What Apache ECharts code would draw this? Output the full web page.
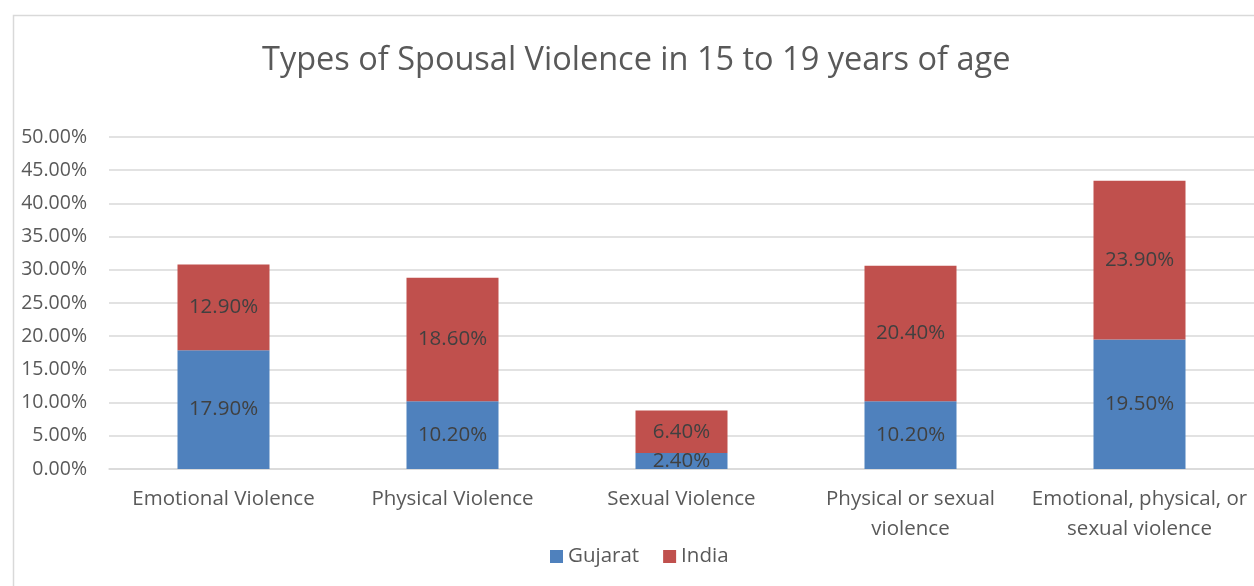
<!DOCTYPE html>
<html>
<head>
<meta charset="utf-8">
<title>Types of Spousal Violence</title>
<script src="https://cdn.jsdelivr.net/npm/echarts@6/dist/echarts.min.js"></script>
<style>
  html, body { margin: 0; padding: 0; background: #fff; }
  #chart { width: 1254px; height: 586px; }
</style>
</head>
<body>
<div id="chart"></div>
<script>
// data
const categories = [
  'Emotional Violence',
  'Physical Violence',
  'Sexual Violence',
  'Physical or sexual\nviolence',
  'Emotional, physical, or\nsexual violence'
];
const gujarat = [17.9, 10.2, 2.4, 10.2, 19.5];
const india = [12.9, 18.6, 6.4, 20.4, 23.9];

const font = '"Open Sans", "Noto Sans", sans-serif';
const pct = v => v.toFixed(2) + '%';

const chart = echarts.init(document.getElementById('chart'), null, { renderer: 'canvas' });

function seriesOf(name, data, color) {
  return {
    name: name,
    type: 'bar',
    stack: 'total',
    data: data,
    barWidth: 92,
    itemStyle: { color: color },
    label: {
      show: true,
      position: 'inside',
      formatter: p => pct(p.value),
      color: '#404040',
      fontFamily: font,
      fontSize: 20.5
    }
  };
}

chart.setOption({
  animation: false,
  backgroundColor: '#fff',
  graphic: [{
    type: 'rect',
    left: 11, top: 13,
    shape: { width: 1300, height: 640 },
    style: { fill: 'none', stroke: '#d9d9d9', lineWidth: 1.5 },
    silent: true
  }],
  title: {
    text: 'Types of Spousal Violence in 15 to 19 years of age',
    left: 257,
    top: 39,
    textStyle: { color: '#595959', fontFamily: font, fontSize: 32.5, fontWeight: 'normal' }
  },
  legend: {
    bottom: 14,
    left: 545,
    itemWidth: 13,
    itemHeight: 13,
    itemGap: 24,
    icon: 'rect',
    textStyle: { color: '#595959', fontFamily: font, fontSize: 20.5 },
    data: ['Gujarat', 'India']
  },
  grid: { left: 109, top: 137, width: 1147, height: 332, containLabel: false },
  xAxis: {
    type: 'category',
    data: categories,
    axisLine: { lineStyle: { color: '#d9d9d9', width: 1.5 } },
    axisTick: { show: false },
    axisLabel: {
      color: '#595959', fontFamily: font, fontSize: 20.5, margin: 15, lineHeight: 30,
      interval: 0
    }
  },
  yAxis: {
    type: 'value',
    min: 0, max: 50, interval: 5,
    axisLine: { show: false },
    axisTick: { show: false },
    splitLine: { lineStyle: { color: '#d9d9d9', width: 1.5 } },
    axisLabel: { color: '#595959', fontFamily: font, fontSize: 19.5, margin: 22, formatter: v => pct(v) }
  },
  series: [
    seriesOf('Gujarat', gujarat, '#4f81bd'),
    seriesOf('India', india, '#c0504d')
  ]
});
</script>
</body>
</html>
